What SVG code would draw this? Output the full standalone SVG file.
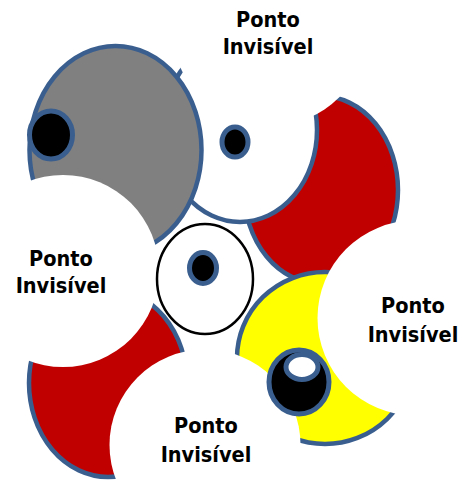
<svg xmlns="http://www.w3.org/2000/svg" width="462" height="480" viewBox="0 0 462 480">
  <style>
    .shape { stroke: #3A5F8F; stroke-width: 4.5; }
    .dot { fill: #000000; stroke: #3A5F8F; stroke-width: 5; }
    .inv { fill: #FFFFFF; stroke: none; }
    .lbl { font-family: "DejaVu Sans Condensed", "DejaVu Sans", sans-serif; font-stretch: condensed; font-weight: bold; font-size: 21.5px; fill: #000000; text-anchor: middle; }
  </style>
  <rect width="462" height="480" fill="#FFFFFF"/>
  <g id="red-top-right"><ellipse class="shape" cx="321" cy="190" rx="77" ry="94" fill="#C00000"/></g>
  <g id="yellow"><ellipse class="shape" cx="325" cy="358" rx="88" ry="86" fill="#FFFF00"/></g>
  <g id="white-top"><ellipse class="shape" cx="240" cy="130" rx="77" ry="92" fill="#FFFFFF"/></g>
  <g id="gray"><ellipse class="shape" cx="115.5" cy="150" rx="86" ry="104" fill="#808080"/></g>
  <g id="red-bottom-left"><ellipse class="shape" cx="108" cy="383" rx="79" ry="94" fill="#C00000"/></g>
  <g id="invisible-points">
    <circle class="inv" cx="270" cy="28" r="98"/>
    <circle class="inv" cx="63" cy="271" r="96"/>
    <circle class="inv" cx="415" cy="318" r="97.5"/>
    <circle class="inv" cx="205" cy="445" r="95.5"/>
  </g>
  <g id="center"><ellipse cx="205" cy="279" rx="48" ry="55" fill="#FFFFFF" stroke="#000000" stroke-width="2.5"/></g>
  <g id="dots">
    <ellipse class="dot" cx="51" cy="135" rx="21.5" ry="24"/>
    <ellipse class="dot" cx="235" cy="142" rx="13" ry="15"/>
    <ellipse class="dot" cx="203" cy="268" rx="13.5" ry="15.5"/>
    <ellipse class="dot" cx="299" cy="382" rx="30" ry="32"/>
    <ellipse class="dot" cx="302" cy="367" rx="16" ry="12.5" fill="#FFFFFF" style="fill:#FFFFFF"/>
  </g>
  <g id="label-top"><text class="lbl" x="268" y="27">Ponto</text><text class="lbl" x="268" y="54">Invisível</text></g>
  <g id="label-left"><text class="lbl" x="61" y="266">Ponto</text><text class="lbl" x="61" y="293">Invisível</text></g>
  <g id="label-right"><text class="lbl" x="413" y="313">Ponto</text><text class="lbl" x="413" y="342">Invisível</text></g>
  <g id="label-bottom"><text class="lbl" x="206" y="433">Ponto</text><text class="lbl" x="206" y="462">Invisível</text></g>
</svg>
